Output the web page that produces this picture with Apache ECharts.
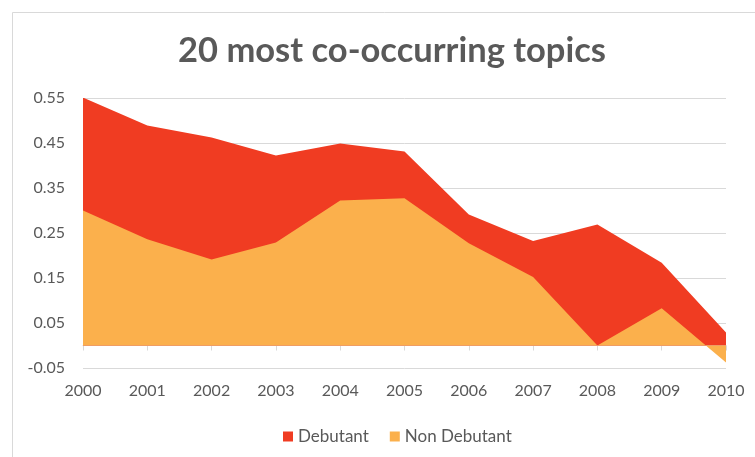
<!DOCTYPE html>
<html>
<head>
<meta charset="utf-8">
<script src="https://cdn.jsdelivr.net/npm/echarts@6/dist/echarts.min.js"></script>
<style>
  html, body { margin: 0; padding: 0; background: #fff; }
  #main { width: 755px; height: 457px; }
</style>
</head>
<body>
<div id="main"></div>
<script>
// values
const years = ['2000', '2001', '2002', '2003', '2004', '2005', '2006', '2007', '2008', '2009', '2010'];
const debutant = [0.551, 0.489, 0.462, 0.422, 0.449, 0.431, 0.291, 0.232, 0.269, 0.184, 0.029];
const nonDebutant = [0.300, 0.236, 0.191, 0.229, 0.322, 0.327, 0.227, 0.152, 0.0, 0.083, -0.038];
const yTicks = [-0.05, 0.05, 0.15, 0.25, 0.35, 0.45, 0.55];

const grey = '#595959';
const lineGrey = '#d9d9d9';
const font = 'Lato, "Open Sans", sans-serif';

const chart = echarts.init(document.getElementById('main'), null, { renderer: 'canvas' });

chart.setOption({
    animation: false,
    backgroundColor: '#fff',
    textStyle: { fontFamily: font },
    title: {
        text: '20 most co-occurring topics',
        left: 173,
        top: 28,
        textStyle: { fontFamily: font, fontSize: 34.5, fontWeight: 'bold', color: grey }
    },
    graphic: [{
        type: 'rect',
        shape: { x: 12.5, y: 12.5, width: 800, height: 500 },
        style: { fill: 'none', stroke: lineGrey, lineWidth: 1 },
        silent: true,
        z: -1
    }],
    legend: {
        top: 423,
        left: 278,
        icon: 'rect',
        itemWidth: 10,
        itemHeight: 10,
        itemGap: 21,
        textStyle: { color: grey, fontSize: 17, fontFamily: font },
        data: ['Debutant', 'Non Debutant']
    },
    grid: { left: 83, right: 29, top: 98, bottom: 89 },
    xAxis: {
        type: 'category',
        data: years,
        boundaryGap: false,
        axisLine: { onZero: true, lineStyle: { color: lineGrey, width: 1 } },
        axisTick: { show: true, alignWithLabel: true, length: 5, lineStyle: { color: lineGrey } },
        axisLabel: { color: grey, fontSize: 16, margin: 15, fontFamily: font },
        splitLine: { show: false }
    },
    yAxis: {
        type: 'value',
        min: -0.05,
        max: 0.55,
        interval: 0.05,
        axisLine: { show: false },
        axisTick: { show: false, customValues: yTicks },
        axisLabel: {
            customValues: yTicks,
            color: grey,
            fontSize: 16,
            margin: 18,
            fontFamily: font,
            formatter: v => v.toFixed(2)
        },
        splitLine: { show: true, lineStyle: { color: lineGrey, width: 1 } }
    },
    series: [
        {
            name: 'Debutant',
            type: 'line',
            data: debutant,
            showSymbol: false,
            symbol: 'none',
            lineStyle: { width: 0 },
            itemStyle: { color: '#f03c22' },
            areaStyle: { color: '#f03c22', opacity: 1 }
        },
        {
            name: 'Non Debutant',
            type: 'line',
            data: nonDebutant,
            showSymbol: false,
            symbol: 'none',
            lineStyle: { width: 0 },
            itemStyle: { color: '#fbb04c' },
            areaStyle: { color: '#fbb04c', opacity: 1 }
        }
    ]
});
</script>
</body>
</html>
